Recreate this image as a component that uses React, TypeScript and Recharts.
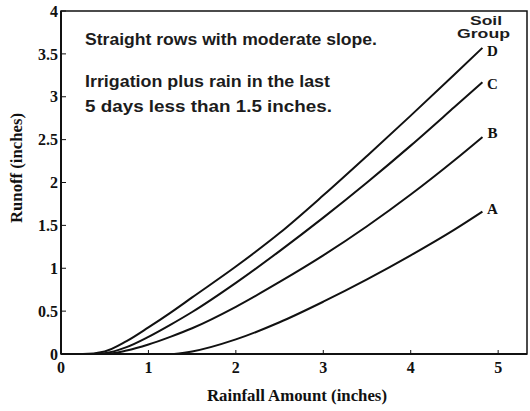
import { LineChart, Line, XAxis, YAxis, ReferenceArea, Customized } from 'recharts';

// rainfall amount (inches) and runoff (inches) per soil group
const rainfall = [0, 0.25, 0.5, 0.75, 1, 1.25, 1.5, 2, 2.5, 3, 3.5, 4, 4.5, 4.82];
const groupA = [0, 0, 0, 0, 0, 0, 0.03, 0.17, 0.37, 0.61, 0.87, 1.15, 1.45, 1.66];
const groupB = [0, 0, 0, 0.04, 0.11, 0.2, 0.3, 0.55, 0.84, 1.15, 1.49, 1.86, 2.26, 2.53];
const groupC = [0, 0, 0.01, 0.08, 0.2, 0.34, 0.49, 0.83, 1.2, 1.59, 2.0, 2.43, 2.88, 3.17];
const groupD = [0, 0, 0.03, 0.15, 0.31, 0.48, 0.66, 1.02, 1.41, 1.85, 2.31, 2.78, 3.26, 3.57];

const groups = ['A', 'B', 'C', 'D'];
const xTicks = [0, 1, 2, 3, 4, 5];
const yTicks = [0, 0.5, 1, 1.5, 2, 2.5, 3, 3.5, 4];

const data = rainfall.map((x, i) => ({
  x,
  A: groupA[i],
  B: groupB[i],
  C: groupC[i],
  D: groupD[i],
}));

const serif = '"Liberation Serif", "Times New Roman", serif';
const sans = '"Liberation Sans", Arial, sans-serif';
const ink = '#111';

// label nudge under the end of each curve, as in the original figure
const labelDy: Record<string, number> = { A: 2, B: 1, C: 7, D: 8 };

const endLabel = (name: string) => (p: any) => {
  if (p.index !== rainfall.length - 1) return <g />;
  return (
    <text x={p.x + 10} y={p.y + labelDy[name]} textAnchor="middle" fontFamily={serif} fontWeight="bold" fontSize={15} fill={ink}>
      {name}
    </text>
  );
};

const Notes = () => (
  <g fontFamily={sans} fontWeight="bold" fill="#1c1c1c">
    <text x={85} y={45} fontSize={16} textLength={292} lengthAdjust="spacingAndGlyphs">
      Straight rows with moderate slope.
    </text>
    <text x={85} y={87} fontSize={16} textLength={245} lengthAdjust="spacingAndGlyphs">
      Irrigation plus rain in the last
    </text>
    <text x={85} y={112} fontSize={16} textLength={247} lengthAdjust="spacingAndGlyphs">
      5 days less than 1.5 inches.
    </text>
    <text x={470} y={25} fontSize={12.5} textLength={32} lengthAdjust="spacingAndGlyphs">Soil</text>
    <text x={457} y={38} fontSize={12.5} textLength={53} lengthAdjust="spacingAndGlyphs">Group</text>
  </g>
);

export default function App() {
  return (
    <div style={{ position: 'absolute', left: 0, top: 0, width: 530, height: 411, background: '#fff' }}>
      <LineChart width={530} height={411} data={data} margin={{ top: 11, right: 3, left: 0, bottom: 0 }}>
        <XAxis
          type="number"
          dataKey="x"
          domain={[0, 5.33]}
          ticks={xTicks}
          interval={0}
          height={57}
          tickSize={-4}
          tickMargin={12}
          axisLine={{ stroke: ink, strokeWidth: 2 }}
          tickLine={{ stroke: ink }}
          tick={{ fill: ink, fontFamily: serif, fontWeight: 'bold', fontSize: 16 }}
          label={{
            content: () => (
              <text x={207} y={401} fontFamily={serif} fontWeight="bold" fontSize={16} fill={ink} textLength={180} lengthAdjust="spacingAndGlyphs">
                Rainfall Amount (inches)
              </text>
            ),
          }}
        />
        <YAxis
          type="number"
          domain={[0, 4]}
          ticks={yTicks}
          interval={0}
          width={61}
          tickSize={-5}
          tickMargin={8}
          axisLine={{ stroke: ink, strokeWidth: 2 }}
          tickLine={{ stroke: ink }}
          tick={{ fill: ink, fontFamily: serif, fontWeight: 'bold', fontSize: 16 }}
          label={{
            content: () => (
              <text x={22} y={223} transform="rotate(-90 22 223)" fontFamily={serif} fontWeight="bold" fontSize={16} fill={ink} textLength={110} lengthAdjust="spacingAndGlyphs">
                Runoff (inches)
              </text>
            ),
          }}
        />
        <ReferenceArea x1={0} x2={5.33} y1={0} y2={4} fill="none" stroke={ink} strokeWidth={1.5} ifOverflow="visible" />
        {groups.map((g) => (
          <Line
            key={g}
            type="monotone"
            dataKey={g}
            stroke={ink}
            strokeWidth={2}
            dot={false}
            isAnimationActive={false}
            label={endLabel(g)}
          />
        ))}
        <Customized component={Notes} />
      </LineChart>
    </div>
  );
}
